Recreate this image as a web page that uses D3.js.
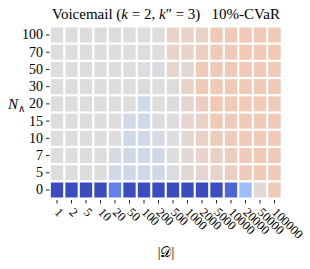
<!DOCTYPE html>
<html>
<head>
<meta charset="utf-8">
<script src="https://cdn.jsdelivr.net/npm/d3@7"></script>
<style>
  body { margin: 0; background: #fff; }
  text { font-family: "Liberation Serif", "DejaVu Serif", serif; fill: #000; }
</style>
</head>
<body>
<div id="chart"></div>
<script>
// column labels |D| and row labels N
var xLabels = ["1","2","5","10","20","50","100","200","500","1000","2000","5000","10000","20000","50000","100000"];
var yLabels = ["100","70","50","30","20","15","10","7","5","0"];

// one array per row (top to bottom), value in [-1, 1]
var row100 = [0,0,0,0,0,0,0,0, 0.1,0.1,0.12,0.2,0.2,0.22,0.2,0.2];
var row70  = [0,0,0,0,0,0,0,0, 0.1,0.1,0.15,0.2,0.2,0.22,0.2,0.22];
var row50  = [0,0,0,0,0,0,0,-0.03, 0.08,0.05,0.2,0.2,0.2,0.22,0.2,0.2];
var row30  = [0,0,0,0,0,0,-0.03,0, 0.02,0.1,0.2,0.2,0.2,0.2,0.2,0.2];
var row20  = [0,0,0,0,0,0,-0.1,0, -0.02,0.08,0.15,0.22,0.2,0.2,0.2,0.2];
var row15  = [0,0,0,0,0,-0.08,-0.1,-0.03, 0,0.08,0.12,0.2,0.18,0.2,0.2,0.2];
var row10  = [0,0,0,0,0,-0.1,-0.1,-0.05, 0,0.06,0.12,0.17,0.18,0.2,0.2,0.2];
var row7   = [0,0,0,0,-0.04,-0.1,-0.1,-0.1, 0,0.04,0.1,0.13,0.16,0.18,0.2,0.2];
var row5   = [0,0,0,0,-0.08,-0.1,-0.1,-0.1, -0.02,0.05,0.08,0.1,0.14,0.18,0.2,0.2];
var row0   = [-1,-1,-1,-1,-0.75,-1,-1,-1, -1,-1,-1,-1,-0.88,-0.4,0.04,0.2];
var rows = [row100, row70, row50, row30, row20, row15, row10, row7, row5, row0];

var svg = d3.select("#chart").append("svg")
  .attr("width", 310)
  .attr("height", 269);

// coolwarm stops
var coolwarm = d3.scaleLinear()
  .domain([-1, -0.75, -0.5, -0.25, 0, 0.25, 0.5, 0.75, 1])
  .range(["#3b4cc0","#6282ea","#8db0fe","#b8d0f9","#dddddd","#f5c4ad","#f49a7b","#de604d","#b40426"])
  .clamp(true);

var x = d3.scaleBand().domain(xLabels).range([49.75, 281.75]).paddingInner(0.15).paddingOuter(0.075);
var y = d3.scaleBand().domain(yLabels).range([26.4, 198.6]).paddingInner(0.13).paddingOuter(0.065);

var cells = [];
rows.forEach(function (r, i) {
  r.forEach(function (v, j) {
    cells.push({ x: xLabels[j], y: yLabels[i], v: v });
  });
});

svg.append("g").selectAll("rect")
  .data(cells)
  .enter()
  .append("rect")
  .attr("x", function (d) { return x(d.x); })
  .attr("y", function (d) { return y(d.y); })
  .attr("width", x.bandwidth())
  .attr("height", y.bandwidth())
  .attr("fill", function (d) { return coolwarm(d.v); });

// y axis
var yAxis = svg.append("g")
  .attr("transform", "translate(49.5,0)")
  .call(d3.axisLeft(y).tickSize(3.5).tickPadding(3));
yAxis.select(".domain").remove();
yAxis.selectAll(".tick line").attr("stroke", "#222").attr("stroke-width", 1);
yAxis.selectAll("text").style("font-size", "14px");

// x axis
var xAxis = svg.append("g")
  .attr("transform", "translate(0,200)")
  .call(d3.axisBottom(x).tickSize(3.5).tickFormat(""));
xAxis.select(".domain").remove();
xAxis.selectAll(".tick line").attr("stroke", "#222").attr("stroke-width", 1);

svg.append("g").selectAll("text")
  .data(xLabels)
  .enter()
  .append("text")
  .attr("transform", function (d) {
    return "translate(" + (x(d) + x.bandwidth() / 2 - 3) + ",213) rotate(45)";
  })
  .style("font-size", "12.5px")
  .text(function (d) { return d; });

// title
var title = svg.append("text")
  .attr("x", 166)
  .attr("y", 19)
  .attr("text-anchor", "middle")
  .style("font-size", "15px");
title.append("tspan").text("Voicemail (");
title.append("tspan").style("font-style", "italic").text("k");
title.append("tspan").text(" = 2, ");
title.append("tspan").style("font-style", "italic").text("k");
title.append("tspan").text("\u2033 = 3)\u2002 10%-CVaR");

// y label
var yl = svg.append("text")
  .attr("x", 8)
  .attr("y", 109)
  .style("font-size", "15px");
yl.append("tspan").style("font-style", "italic").text("N");
yl.append("tspan").attr("dy", 3).style("font-size", "10px").text("\u2227");

// x label
svg.append("text")
  .attr("x", 166)
  .attr("y", 257)
  .attr("text-anchor", "middle")
  .style("font-size", "14px")
  .text("|\uD835\uDC9F|");
</script>
</body>
</html>
